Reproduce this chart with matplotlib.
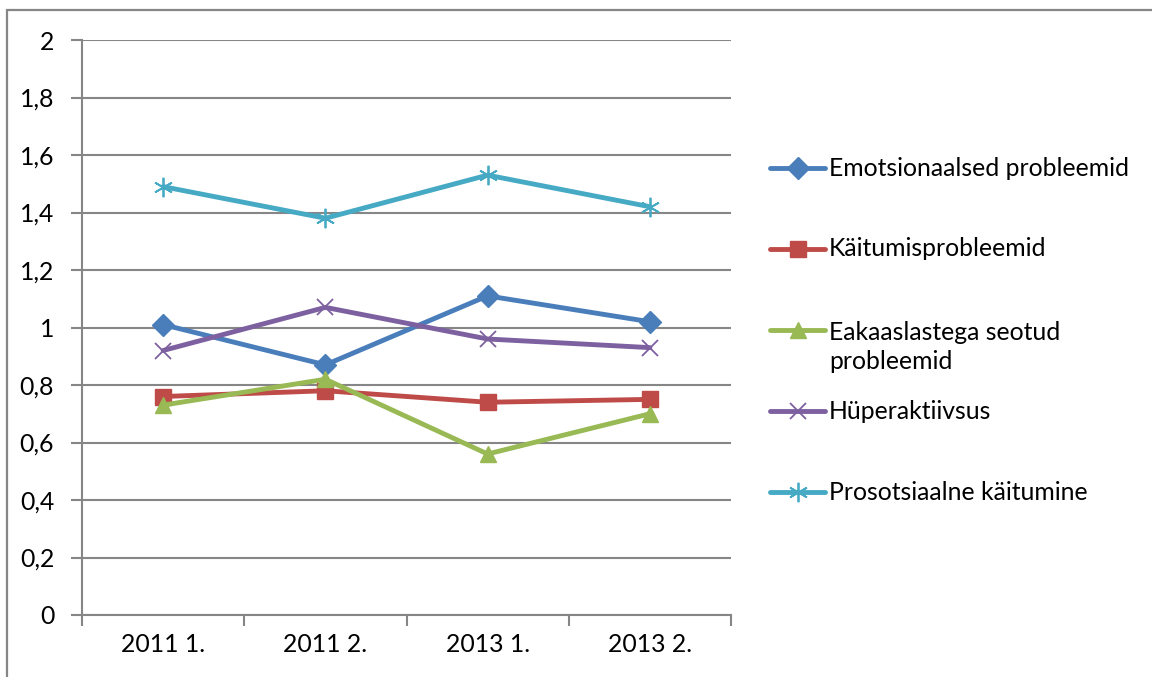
import matplotlib
matplotlib.use("Agg")
import matplotlib.pyplot as plt
from matplotlib.lines import Line2D
from matplotlib.patches import Rectangle

plt.rcParams['font.family'] = ['Lato', 'DejaVu Sans']

categories = ["2011 1.", "2011 2.", "2013 1.", "2013 2."]
series_names = ["Emotsionaalsed probleemid", "Käitumisprobleemid",
                "Eakaaslastega seotud\nprobleemid", "Hüperaktiivsus",
                "Prosotsiaalne käitumine"]
emotsionaalsed = [1.01, 0.87, 1.11, 1.02]
kaitumis = [0.76, 0.78, 0.74, 0.75]
eakaaslastega = [0.73, 0.82, 0.56, 0.70]
huperaktiivsus = [0.92, 1.07, 0.96, 0.93]
prosotsiaalne = [1.49, 1.38, 1.53, 1.42]
y_ticks = [0, 0.2, 0.4, 0.6, 0.8, 1.0, 1.2, 1.4, 1.6, 1.8, 2.0]
y_tick_labels = ["0", "0,2", "0,4", "0,6", "0,8", "1", "1,2", "1,4", "1,6", "1,8", "2"]

values = [emotsionaalsed, kaitumis, eakaaslastega, huperaktiivsus, prosotsiaalne]
colors = ["#4A7EBB", "#BE4B48", "#98B954", "#7D60A0", "#46AAC5"]
markers = ["D", "s", "^", "x", (6, 2, 0)]
msizes = [11, 11, 12, 12, 14]
mews = [1, 1, 1, 1.3, 1.3]

FS = 17.8
LW = 3.5

W, H = 1152, 677
fig = plt.figure(figsize=(W / 100, H / 100), dpi=100)
ax = fig.add_axes([82 / W, 1 - 615 / H, (731 - 82) / W, (615 - 40) / H])

grey = "#868686"
fig.add_artist(Rectangle((7 / W, -0.1), 1.2, 1 - 10 / H + 0.1, transform=fig.transFigure,
                         fill=False, edgecolor=grey, linewidth=1.6))

x = list(range(len(categories)))
for vals, c, m, ms, mew in zip(values, colors, markers, msizes, mews):
    ax.plot(x, vals, color=c, linewidth=LW, marker=m, markersize=ms,
            markeredgewidth=mew, markerfacecolor=c, markeredgecolor=c,
            solid_joinstyle='round', solid_capstyle='round', zorder=3)

ax.set_xlim(-0.5, len(categories) - 0.5)
ax.set_ylim(0, 2)
ax.set_yticks(y_ticks)
ax.set_yticklabels(y_tick_labels)
ax.set_xticks(x)
ax.set_xticklabels(categories)
ax.set_xticks([i - 0.5 for i in range(len(categories) + 1)], minor=True)
ax.tick_params(axis='x', which='major', length=0, pad=13, labelsize=FS)
ax.tick_params(axis='x', which='minor', length=8, width=1.5, color=grey, direction='out')
ax.tick_params(axis='y', length=8, width=1.5, color=grey, pad=12, labelsize=FS)
ax.yaxis.grid(True, color=grey, linewidth=1.5)
ax.set_axisbelow(True)
for s in ["top", "right"]:
    ax.spines[s].set_visible(False)
for s in ["left", "bottom"]:
    ax.spines[s].set_color(grey)
    ax.spines[s].set_linewidth(1.5)

# legend (drawn manually so the two-line entry matches the reference layout)
leg_y = [168, 249, 330, 411, 492]
for name, c, m, ms, mew, yy in zip(series_names, colors, markers, msizes, mews, leg_y):
    yf = 1 - yy / H
    fig.add_artist(Line2D([770 / W, 825 / W], [yf, yf], transform=fig.transFigure,
                          color=c, linewidth=LW, solid_capstyle='round'))
    fig.add_artist(Line2D([798 / W], [yf], transform=fig.transFigure, color=c,
                          marker=m, markersize=ms, markeredgewidth=mew,
                          markerfacecolor=c, markeredgecolor=c, linestyle='none'))
    if '\n' in name:
        fig.text(829 / W, yf + 9 / H, name, fontsize=FS, va='top', ha='left',
                 linespacing=1.3)
    else:
        fig.text(829 / W, yf, name, fontsize=FS, va='center', ha='left')

fig.savefig("out.png", dpi=100)
